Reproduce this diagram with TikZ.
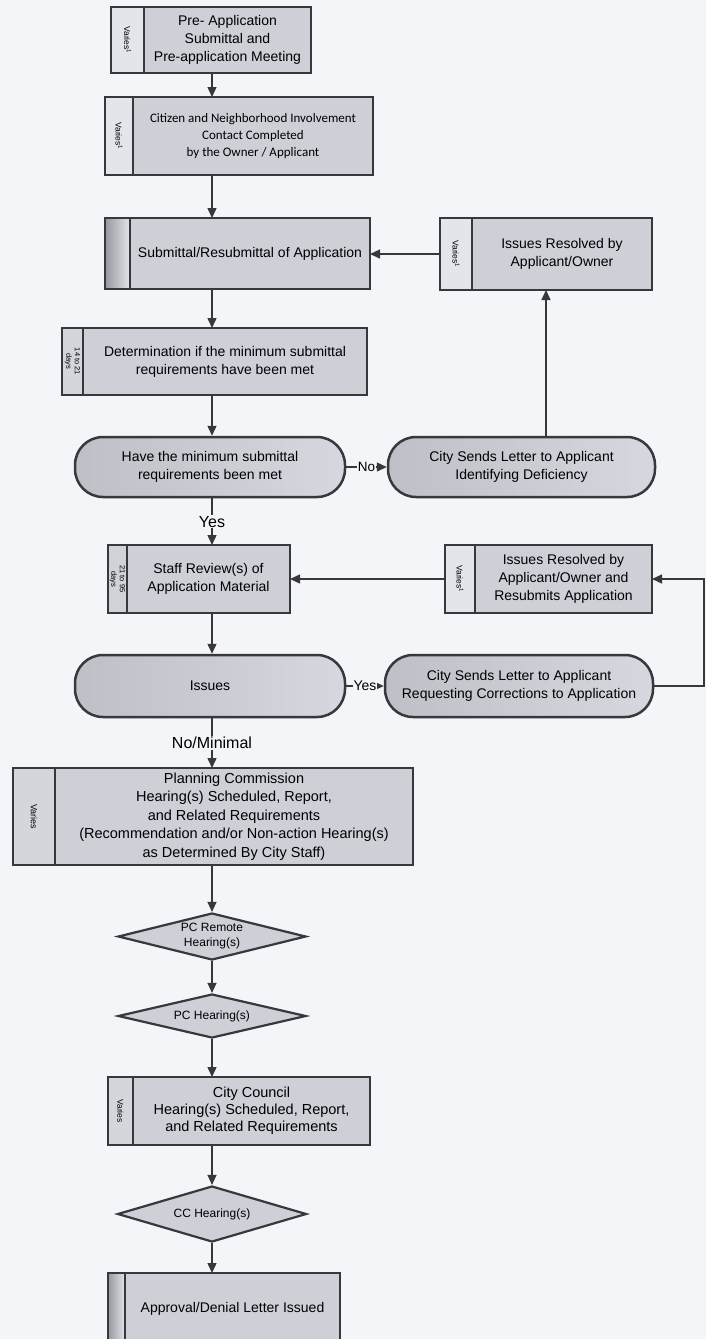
\documentclass[tikz,border=0pt]{standalone}
\usepackage{fontspec}
\setmainfont{Liberation Sans}
\newfontfamily\calibrifont{Carlito}
\definecolor{pagebg}{RGB}{244,245,248}
\definecolor{boxgray}{RGB}{206,208,216}
\definecolor{tabgray}{RGB}{228,229,234}
\definecolor{tabdark}{RGB}{150,152,160}
\definecolor{pilldark}{RGB}{190,192,200}
\definecolor{pilllight}{RGB}{214,216,223}
\definecolor{linegray}{RGB}{55,55,60}
\usetikzlibrary{arrows.meta, positioning, shapes.geometric, calc}

\begin{document}
\begin{tikzpicture}[x=1pt, y=-1pt,
    box/.style={draw=linegray, line width=2.2pt, fill=boxgray, align=center,
                inner sep=2pt, outer sep=0pt, font=\fontsize{14}{18}\selectfont},
    tabbox/.style={draw=linegray, line width=2.2pt, fill=tabgray, inner sep=0pt,
                   outer sep=0pt, anchor=north east, font=\fontsize{8.5}{9.5}\selectfont},
    blanktab/.style={tabbox, left color=tabdark, right color=tabgray},
    pill/.style={draw=linegray, line width=2.5pt, rounded corners=28pt,
                 left color=pilldark, right color=pilllight, align=center,
                 inner sep=2pt, font=\fontsize{14}{18}\selectfont},
    gate/.style={draw=linegray, line width=2.2pt, diamond, aspect=4, fill=boxgray,
                 inner sep=0pt, align=center, font=\fontsize{12}{15}\selectfont},
    flow/.style={draw=linegray, line width=1.4pt, -{Triangle[length=10pt, width=9pt]}},
    tag/.style={fill=pagebg, inner sep=1pt, font=\fontsize{14}{16}\selectfont}
  ]
  \useasboundingbox (0,0) rectangle (706,1339);
  \fill[pagebg] (0,0) rectangle (706,1339);

  % Main column
  \coordinate (colx) at (212,0);
  \coordinate (upx) at (546,0);
  \coordinate (rim) at (704,0);

  \node[box, minimum width=167, minimum height=66] (pre) at (227.5,40)
    {Pre- Application\\Submittal and\\Pre-application Meeting};
  \node[tabbox, minimum width=33, minimum height=66] (preTab) at (pre.north west)
    {\rotatebox{-90}{Varies\textsuperscript{1}}};

  \node[box, minimum width=240, minimum height=78, font=\calibrifont\fontsize{13}{17}\selectfont]
    (citizen) at (253,136)
    {Citizen and Neighborhood Involvement\\Contact Completed\\by the Owner / Applicant};
  \node[tabbox, minimum width=28, minimum height=78] (citizenTab) at (citizen.north west)
    {\rotatebox{-90}{Varies\textsuperscript{1}}};

  \node[box, minimum width=240, minimum height=71] (submit) at (250,253.5)
    {Submittal/Resubmittal of Application};
  \node[blanktab, minimum width=25, minimum height=71] (submitTab) at (submit.north west) {};

  \node[box, minimum width=284, minimum height=67] (determ) at (225,361.5)
    {Determination if the minimum submittal\\requirements have been met};
  \node[tabbox, minimum width=21, minimum height=67, fill=tabgray!80!tabdark,
        font=\fontsize{7.5}{8.5}\selectfont] (determTab)
    at (determ.north west) {\rotatebox{-90}{\shortstack{14 to 21\\days}}};

  \node[pill, minimum width=270, minimum height=60] (minmet) at (210,467)
    {Have the minimum submittal\\requirements been met};

  \node[box, minimum width=163, minimum height=68] (staff) at (208.5,579)
    {Staff Review(s) of\\Application Material};
  \node[tabbox, minimum width=19, minimum height=68, fill=tabgray!75!tabdark,
        font=\fontsize{7.5}{8.5}\selectfont] (staffTab)
    at (staff.north west) {\rotatebox{-90}{\shortstack{21 to 95\\days}}};

  \node[pill, minimum width=270, minimum height=62] (issues) at (210,686) {Issues};

  \node[box, minimum width=358, minimum height=97, font=\fontsize{14.5}{18.5}\selectfont]
    (pc) at (234,816.5)
    {Planning Commission\\Hearing(s) Scheduled, Report,\\and Related Requirements\\
     (Recommendation and/or Non-action Hearing(s)\\as Determined By City Staff)};
  \node[tabbox, minimum width=42, minimum height=97, fill=tabgray!80!tabdark,
        font=\fontsize{9}{10}\selectfont] (pcTab) at (pc.north west) {\rotatebox{-90}{Varies}};

  \node[gate, minimum width=188, minimum height=47] (pcremote) at (212,936.5)
    {PC Remote\\Hearing(s)};
  \node[gate, minimum width=188, minimum height=44] (pchear) at (212,1016) {PC Hearing(s)};

  \node[box, minimum width=237, minimum height=68, font=\fontsize{14.5}{17}\selectfont]
    (cc) at (251.5,1111)
    {City Council\\Hearing(s) Scheduled, Report,\\and Related Requirements};
  \node[tabbox, minimum width=25, minimum height=68, fill=tabgray!80!tabdark]
    (ccTab) at (cc.north west) {\rotatebox{-90}{Varies}};

  \node[gate, minimum width=189, minimum height=56] (cchear) at (212,1214) {CC Hearing(s)};

  \node[box, minimum width=215, minimum height=72] (approval) at (232.5,1309)
    {Approval/Denial Letter Issued};
  \node[blanktab, minimum width=17, minimum height=72] (approvalTab) at (approval.north west) {};

  % Right column
  \node[box, minimum width=180, minimum height=72] (resolved) at (562,254)
    {Issues Resolved by\\Applicant/Owner};
  \node[tabbox, minimum width=32, minimum height=72] (resolvedTab) at (resolved.north west)
    {\rotatebox{-90}{Varies\textsuperscript{1}}};

  \node[pill, minimum width=267, minimum height=60] (letter1) at (521.5,467)
    {City Sends Letter to Applicant\\Identifying Deficiency};

  \node[box, minimum width=177, minimum height=68] (resolved2) at (563.5,579)
    {Issues Resolved by\\Applicant/Owner and\\Resubmits Application};
  \node[tabbox, minimum width=30, minimum height=68] (resolved2Tab) at (resolved2.north west)
    {\rotatebox{-90}{Varies\textsuperscript{1}}};

  \node[pill, minimum width=268, minimum height=62] (letter2) at (519,686)
    {City Sends Letter to Applicant\\Requesting Corrections to Application};

  % Connectors
  \draw[flow] (pre.south -| colx) -- (citizen.north -| colx);
  \draw[flow] (citizen.south -| colx) -- (submit.north -| colx);
  \draw[flow] (submit.south -| colx) -- (determ.north -| colx);
  \draw[flow] (determ.south -| colx) -- (minmet.north -| colx);
  \draw[flow] (minmet.east) -- node[tag, font=\fontsize{13.5}{15}\selectfont] {No} (letter1.west);
  \draw[flow] (letter1.north -| upx) -- (resolved.south -| upx);
  \draw[flow] (resolvedTab.west) -- (resolvedTab.west -| submit.east);
  \draw[flow] (minmet.south -| colx) -- node[tag, font=\fontsize{16}{18}\selectfont] {Yes}
    (staff.north -| colx);
  \draw[flow] (resolved2Tab.west) -- (resolved2Tab.west -| staff.east);
  \draw[flow] (staff.south -| colx) -- (issues.north -| colx);
  \draw[flow] (issues.east) -- node[tag] {Yes} (letter2.west);
  \draw[flow] (letter2.east) -- (letter2.east -| rim) |- (resolved2.east);
  \draw[flow] (issues.south -| colx) -- node[tag, font=\fontsize{16}{18}\selectfont] {No/Minimal}
    (pc.north -| colx);
  \draw[flow] (pc.south -| colx) -- (pcremote.north);
  \draw[flow] (pcremote.south) -- (pchear.north);
  \draw[flow] (pchear.south) -- (cc.north -| colx);
  \draw[flow] (cc.south -| colx) -- (cchear.north);
  \draw[flow] (cchear.south) -- (approval.north -| colx);
\end{tikzpicture}
\end{document}
